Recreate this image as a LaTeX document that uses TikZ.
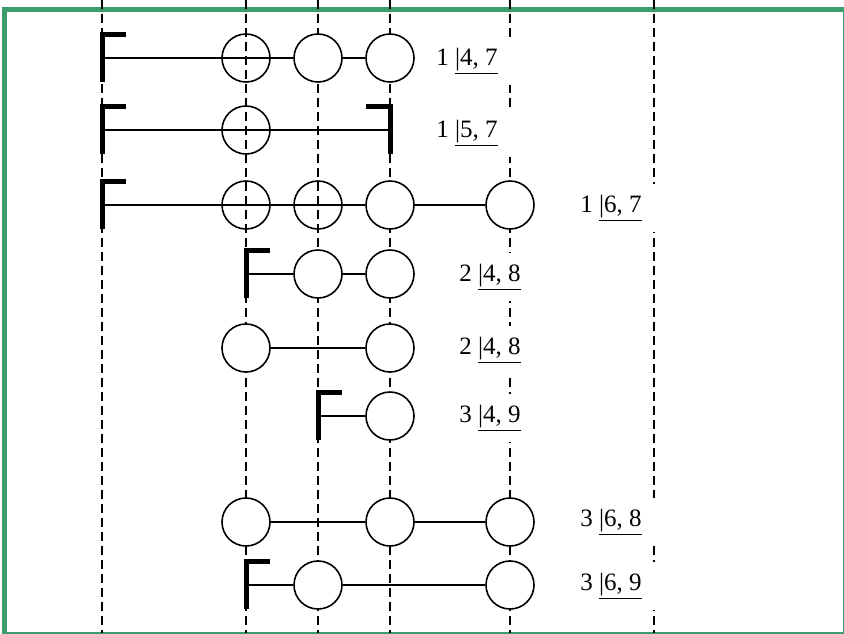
\documentclass[tikz,border=0pt]{standalone}
\usepackage{fontspec}
\setmainfont{Liberation Serif}
\definecolor{framegreen}{RGB}{59,157,108}
% thick end bars: name, x, y
\newcommand\lbar[3]{%
  \coordinate (#1) at (#2,#3);
  \draw[endbar] (#2,#3+24) -- (#2,#3-24) -- (#2+24,#3-24);}
\newcommand\rbar[3]{%
  \coordinate (#1) at (#2,#3);
  \draw[endbar] (#2,#3+24) -- (#2,#3-24) -- (#2-24,#3-24);}
\begin{document}
\begin{tikzpicture}[x=1pt,y=-1pt,
  site/.style={circle,draw,line width=1.6pt,minimum size=48pt,inner sep=0pt,fill=white},
  hole/.style={site,fill=none},
  bond/.style={line width=1.6pt},
  endbar/.style={line width=5pt,miter limit=10},
  tag/.style={fill=white,minimum width=100pt,minimum height=48pt,inner sep=0pt,
    font=\fontsize{25}{28}\selectfont}]
\useasboundingbox (0,0) rectangle (844,633);
\draw[framegreen,line width=5pt] (4.5,9.5) rectangle (845,634);
\foreach \x in {102,246,318,390,510,654}{
  \draw[line width=1.4pt,dash pattern=on 9pt off 5pt] (\x,0) -- (\x,633);}

% row 1
\lbar{e1}{102}{58}
\node[hole] (a1) at (246,58) {};
\node[site] (b1) at (318,58) {};
\node[site] (c1) at (390,58) {};
\draw[bond] (e1) -- (b1) -- (c1);
\node[tag] (t1) at (467,61) {1 \underline{|4, 7}};
% row 2
\lbar{e2}{102}{130}
\node[hole] (a2) at (246,130) {};
\rbar{f2}{390}{130}
\draw[bond] (e2) -- (f2);
\node[tag] (t2) at (467,133) {1 \underline{|5, 7}};
% row 3
\lbar{e3}{102}{205}
\node[hole] (a3) at (246,205) {};
\node[hole] (b3) at (318,205) {};
\node[site] (c3) at (390,205) {};
\node[site] (d3) at (510,205) {};
\draw[bond] (e3) -- (c3) -- (d3);
\node[tag] (t3) at (611,208) {1 \underline{|6, 7}};
% row 4
\lbar{e4}{246}{274}
\node[site] (b4) at (318,274) {};
\node[site] (c4) at (390,274) {};
\draw[bond] (e4) -- (b4) -- (c4);
\node[tag] (t4) at (490,277) {2 \underline{|4, 8}};
% row 5
\node[site] (a5) at (246,348) {};
\node[site] (c5) at (390,348) {};
\draw[bond] (a5) -- (c5);
\node[tag] (t5) at (490,350) {2 \underline{|4, 8}};
% row 6
\lbar{e6}{318}{416}
\node[site] (c6) at (390,416) {};
\draw[bond] (e6) -- (c6);
\node[tag] (t6) at (490,418) {3 \underline{|4, 9}};
% row 7
\node[site] (a7) at (246,522) {};
\node[site] (c7) at (390,522) {};
\node[site] (d7) at (510,522) {};
\draw[bond] (a7) -- (c7) -- (d7);
\node[tag] (t7) at (611,522) {3 \underline{|6, 8}};
% row 8
\lbar{e8}{246}{585}
\node[site] (b8) at (318,585) {};
\node[site] (d8) at (510,585) {};
\draw[bond] (e8) -- (b8) -- (d8);
\node[tag] (t8) at (611,586) {3 \underline{|6, 9}};
\end{tikzpicture}
\end{document}
